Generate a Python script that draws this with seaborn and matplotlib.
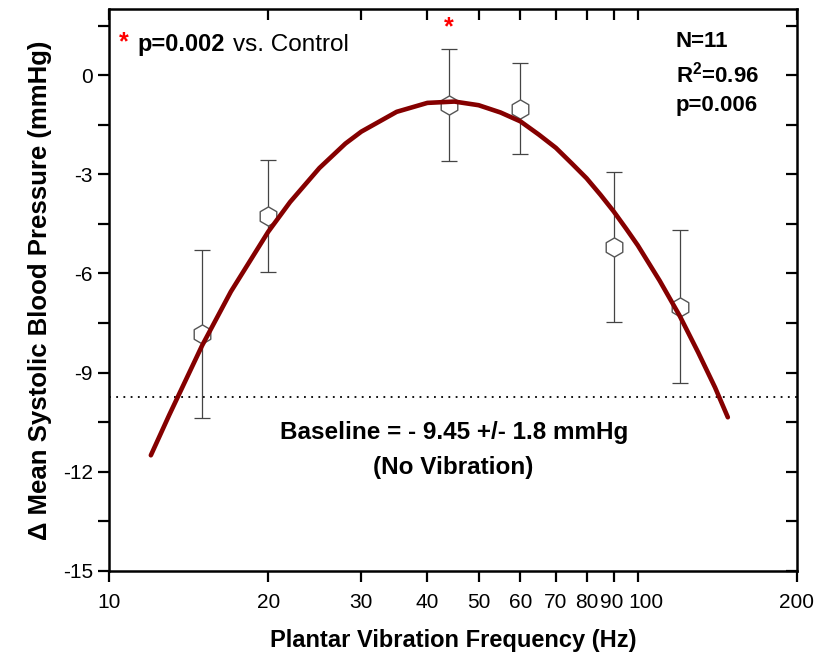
import numpy as np
import pandas as pd
import matplotlib
matplotlib.use("Agg")
import matplotlib.pyplot as plt
import seaborn as sns
from matplotlib.ticker import NullLocator, FixedLocator
from matplotlib.transforms import ScaledTranslation

freq = [15, 20, 44, 60, 90, 120]
dsbp = [-7.83, -4.26, -0.91, -1.01, -5.19, -7.01]
sem = [2.54, 1.70, 1.70, 1.38, 2.27, 2.31]

# fitted curve
fit_freq = [12, 13, 15, 17, 20, 22, 25, 28, 30, 35, 40, 45, 50, 55, 60, 65, 70, 75,
            80, 85, 90, 95, 100, 110, 120, 130, 140, 148]
fit_dsbp = [-11.5, -10.28, -8.18, -6.55, -4.74, -3.84, -2.81, -2.07, -1.71, -1.11,
            -0.84, -0.80, -0.91, -1.13, -1.40, -1.80, -2.20, -2.67, -3.12, -3.62,
            -4.12, -4.64, -5.15, -6.22, -7.28, -8.38, -9.45, -10.35]

baseline = -9.75
xticks = [10, 20, 30, 40, 50, 60, 70, 80, 90, 100, 200]
yticks = [0, -3, -6, -9, -12, -15]
yminor = [1.5, -1.5, -4.5, -7.5, -10.5, -13.5]

pts = pd.DataFrame({"freq": freq, "dsbp": dsbp, "se": sem})
fit = pd.DataFrame({"freq": fit_freq, "dsbp": fit_dsbp})

sns.set_style("ticks")
plt.rcParams["font.family"] = ["Liberation Sans", "DejaVu Sans"]
plt.rcParams["mathtext.fontset"] = "custom"
plt.rcParams["mathtext.bf"] = "Liberation Sans:bold"
plt.rcParams["mathtext.rm"] = "Liberation Sans"
for k in ["text.color", "axes.labelcolor", "xtick.color", "ytick.color", "axes.edgecolor"]:
    plt.rcParams[k] = "black"

fig = plt.figure(figsize=(8.17, 6.57), dpi=100)
ax = fig.add_axes([0.1334, 0.1309, 0.8421, 0.8554])

ax.axhline(baseline, color="black", ls=(0, (1, 3)), lw=1.3, zorder=1)
ax.errorbar(pts["freq"], pts["dsbp"], yerr=pts["se"], fmt="none", ecolor="#444444",
            elinewidth=0.9, capsize=5.5, capthick=0.9, zorder=2)
sns.scatterplot(data=pts, x="freq", y="dsbp", marker="h", s=190,
                facecolor="white", edgecolor="#555555", linewidth=1.0,
                ax=ax, zorder=3)
sns.lineplot(data=fit, x="freq", y="dsbp", color="#850000", lw=3.3,
             ax=ax, zorder=4, sort=False)

ax.set_xscale("log")
ax.set_xlim(10, 200)
ax.set_ylim(-15, 2)
ax.xaxis.set_major_locator(FixedLocator(xticks))
ax.xaxis.set_minor_locator(NullLocator())
ax.set_xticklabels([str(t) for t in xticks])
ax.set_yticks(yticks)
ax.set_yticklabels([str(t) for t in yticks])
ax.yaxis.set_minor_locator(FixedLocator(yminor))

for s in ax.spines.values():
    s.set_linewidth(1.8)
    s.set_visible(True)
ax.tick_params(axis="both", which="both", width=1.6, length=8, labelsize=15,
               colors="black", direction="out")
ax.tick_params(axis="x", which="both", top=True, pad=8)
ax.tick_params(axis="y", which="both", right=True)
ax.set_xlabel("Plantar Vibration Frequency (Hz)", fontsize=17, fontweight="bold", labelpad=12)
ax.set_ylabel("\u0394 Mean Systolic Blood Pressure (mmHg)", fontsize=18.5,
              fontweight="bold", labelpad=8)

tf = ax.transAxes
ax.text(0.0218, 0.94, "*", color="red", fontsize=18, fontweight="bold",
        ha="center", va="center", transform=tf)
ax.text(0.0407, 0.936, "p=0.002", fontsize=17, fontweight="bold",
        ha="left", va="center", transform=tf)
ax.text(0.180, 0.936, "vs. Control", fontsize=17.5, ha="left", va="center", transform=tf)
ax.text(44, 1.45, "*", color="red", fontsize=18, fontweight="bold",
        ha="center", va="center")

ax.text(0.824, 0.943, "N=11", fontsize=16, fontweight="bold", ha="left", va="center", transform=tf)
ax.text(0.824, 0.884, r"R$^{\mathbf{2}}$=0.96", fontsize=16, fontweight="bold",
        ha="left", va="center", transform=tf)
ax.text(0.824, 0.828, "p=0.006", fontsize=16, fontweight="bold", ha="left", va="center", transform=tf)

ax.text(0.501, 0.247, "Baseline = - 9.45 +/- 1.8 mmHg", fontsize=17.5, fontweight="bold",
        ha="center", va="center", transform=tf)
ax.text(0.501, 0.185, "(No Vibration)", fontsize=17.5, fontweight="bold",
        ha="center", va="center", transform=tf)

# outward ticks on bottom/left, inward on top/right
fig.canvas.draw()
for t in ax.xaxis.get_major_ticks():
    t.tick2line.set_marker(matplotlib.lines.TICKDOWN)
for t in ax.yaxis.get_major_ticks() + ax.yaxis.get_minor_ticks():
    t.tick2line.set_marker(matplotlib.lines.TICKLEFT)

# the 90 and 100 labels crowd each other, as in the original
labs = ax.get_xticklabels()
labs[8].set_transform(labs[8].get_transform() + ScaledTranslation(-2 / 100, 0, fig.dpi_scale_trans))
labs[9].set_transform(labs[9].get_transform() + ScaledTranslation(8 / 100, 0, fig.dpi_scale_trans))

fig.savefig("out.png", dpi=100)
